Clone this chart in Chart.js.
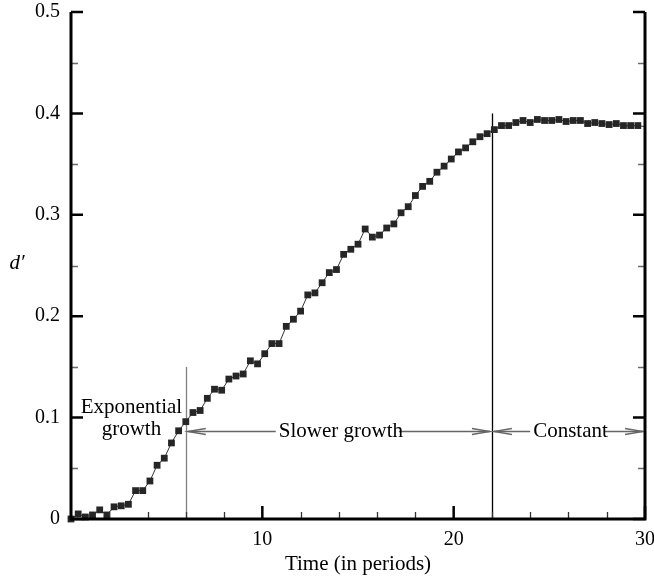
<!DOCTYPE html>
<html>
<head>
<meta charset="utf-8">
<script src="https://cdn.jsdelivr.net/npm/chart.js@4.4.1/dist/chart.umd.min.js"></script>
<style>
html,body{margin:0;padding:0;background:#fff;}
#wrap{width:654px;height:579px;position:relative;}
</style>
</head>
<body>
<div id="wrap"><canvas id="c" width="654" height="579"></canvas></div>
<script>
// ---- data ----
const timePeriods = [0, 0.375, 0.75, 1.125, 1.5, 1.875, 2.25, 2.625, 3, 3.375,
  3.75, 4.125, 4.5, 4.875, 5.25, 5.625, 6, 6.375, 6.75, 7.125,
  7.5, 7.875, 8.25, 8.625, 9, 9.375, 9.75, 10.125, 10.5, 10.875,
  11.25, 11.625, 12, 12.375, 12.75, 13.125, 13.5, 13.875, 14.25, 14.625,
  15, 15.375, 15.75, 16.125, 16.5, 16.875, 17.25, 17.625, 18, 18.375,
  18.75, 19.125, 19.5, 19.875, 20.25, 20.625, 21, 21.375, 21.75, 22.125,
  22.5, 22.875, 23.25, 23.625, 24, 24.375, 24.75, 25.125, 25.5, 25.875,
  26.25, 26.625, 27, 27.375, 27.75, 28.125, 28.5, 28.875, 29.25, 29.625, 30];
const dPrime = [0, 0.005, 0.002, 0.004, 0.009, 0.004, 0.012, 0.013, 0.0145, 0.028,
  0.028, 0.0375, 0.053, 0.060, 0.075, 0.087, 0.096, 0.105, 0.107, 0.119,
  0.128, 0.127, 0.138, 0.141, 0.143, 0.156, 0.153, 0.163, 0.173, 0.173,
  0.190, 0.197, 0.205, 0.221, 0.223, 0.233, 0.243, 0.246, 0.261, 0.266,
  0.271, 0.286, 0.278, 0.280, 0.287, 0.291, 0.302, 0.308, 0.319, 0.328,
  0.333, 0.342, 0.348, 0.355, 0.362, 0.366, 0.372, 0.377, 0.380, 0.384,
  0.388, 0.388, 0.391, 0.393, 0.391, 0.394, 0.393, 0.393, 0.394, 0.392,
  0.393, 0.393, 0.390, 0.391, 0.390, 0.389, 0.390, 0.388, 0.388, 0.388, 0.387];
const markerShown = timePeriods.map(t => t < 30);

const xMajorTicks = [10, 20, 30];
const xMinorTicks = [2, 4, 6, 8, 12, 14, 16, 18, 22, 24, 26, 28];
const yMajorTicks = [0, 0.1, 0.2, 0.3, 0.4, 0.5];
const yMinorTicks = [0.05, 0.15, 0.25, 0.35, 0.45];

const phaseBoundaries = [6, 22];
const boundaryTops = [0.15, 0.40];
const arrowLevel = 0.087;
const phaseTextA = ['Exponential', 'growth'];
const phaseTextB = 'Slower growth';
const phaseTextC = 'Constant';
const xTitle = 'Time (in periods)';
const yTitle = 'd\u2032';

const FONT = '"Liberation Serif", "Times New Roman", serif';

function arrowHead(ctx, tipX, y, dir) {
  const L = 18, h = 3;
  ctx.beginPath();
  ctx.moveTo(tipX - dir * L, y - h);
  ctx.lineTo(tipX, y);
  ctx.lineTo(tipX - dir * L, y + h);
  ctx.stroke();
}

const annotations = {
  id: 'annotations',
  beforeDatasetsDraw(chart) {
    const ctx = chart.ctx, xs = chart.scales.x, ys = chart.scales.y;
    ctx.save();
    const lineCols = ['#808080', '#000000'];
    phaseBoundaries.forEach((b, i) => {
      const px = Math.round(xs.getPixelForValue(b)) + 0.5;
      ctx.strokeStyle = lineCols[i];
      ctx.lineWidth = 1.3;
      ctx.beginPath();
      ctx.moveTo(px, ys.getPixelForValue(0));
      ctx.lineTo(px, ys.getPixelForValue(boundaryTops[i]));
      ctx.stroke();
    });
    const ay = Math.round(ys.getPixelForValue(arrowLevel)) + 0.5;
    ctx.font = '21px ' + FONT;
    ctx.fillStyle = '#000';
    ctx.textBaseline = 'alphabetic';
    ctx.textAlign = 'center';
    const ex = (xs.left + xs.getPixelForValue(phaseBoundaries[0])) / 2 + 3;
    ctx.fillText(phaseTextA[0], ex, ay - 19);
    ctx.fillText(phaseTextA[1], ex, ay + 3);
    const segs = [
      [xs.getPixelForValue(phaseBoundaries[0]), xs.getPixelForValue(phaseBoundaries[1]), phaseTextB],
      [xs.getPixelForValue(phaseBoundaries[1]), xs.right, phaseTextC]
    ];
    ctx.strokeStyle = '#666';
    ctx.lineWidth = 1.3;
    segs.forEach(([a, b, txt]) => {
      const w = ctx.measureText(txt).width;
      const cx = (a + b) / 2 + 2;
      ctx.beginPath();
      ctx.moveTo(a + 2, ay); ctx.lineTo(cx - w / 2 - 3, ay);
      ctx.moveTo(cx + w / 2 - 4, ay); ctx.lineTo(b - 2, ay);
      ctx.stroke();
      arrowHead(ctx, a + 2, ay, -1);
      arrowHead(ctx, b - 2, ay, 1);
      ctx.fillText(txt, cx, ay + 5);
    });
    ctx.restore();
  },
  afterDraw(chart) {
    const ctx = chart.ctx, xs = chart.scales.x, ys = chart.scales.y;
    const L = xs.left, R = xs.right, T = ys.top, B = ys.bottom;
    ctx.save();
    ctx.lineCap = 'butt';
    ctx.strokeStyle = '#000';
    ctx.lineWidth = 2.5;
    yMajorTicks.forEach(v => {
      const py = ys.getPixelForValue(v);
      ctx.beginPath();
      ctx.moveTo(L, py); ctx.lineTo(L + 12, py);
      ctx.moveTo(R, py); ctx.lineTo(R - 12, py);
      ctx.stroke();
    });
    xMajorTicks.forEach(v => {
      const px = xs.getPixelForValue(v);
      ctx.beginPath();
      ctx.moveTo(px, B); ctx.lineTo(px, B - 13);
      ctx.stroke();
    });
    ctx.strokeStyle = '#6a6a6a';
    ctx.lineWidth = 1.3;
    yMinorTicks.forEach(v => {
      const py = Math.round(ys.getPixelForValue(v)) + 0.5;
      ctx.beginPath();
      ctx.moveTo(L, py); ctx.lineTo(L + 7, py);
      ctx.moveTo(R, py); ctx.lineTo(R - 7, py);
      ctx.stroke();
    });
    ctx.strokeStyle = '#333';
    xMinorTicks.forEach(v => {
      const px = Math.round(xs.getPixelForValue(v)) + 0.5;
      ctx.beginPath();
      ctx.moveTo(px, B); ctx.lineTo(px, B - 7);
      ctx.stroke();
    });
    ctx.strokeStyle = '#000';
    ctx.lineWidth = 3;
    ctx.beginPath();
    ctx.moveTo(L, T); ctx.lineTo(L, B); ctx.lineTo(R, B); ctx.lineTo(R, T);
    ctx.stroke();
    ctx.font = 'italic 21px ' + FONT;
    ctx.fillStyle = '#000';
    ctx.textAlign = 'center';
    ctx.textBaseline = 'middle';
    ctx.fillText(yTitle, 17, 263);
    ctx.restore();
  }
};

new Chart(document.getElementById('c'), {
  type: 'line',
  data: {
    datasets: [{
      data: timePeriods.map((t, i) => ({ x: t, y: dPrime[i] })),
      borderColor: '#333',
      borderWidth: 1,
      backgroundColor: '#262626',
      pointStyle: 'rect',
      pointRadius: ctx => markerShown[ctx.dataIndex] ? 4.8 : 0,
      pointBorderWidth: 0,
      pointBackgroundColor: '#262626',
      tension: 0,
      clip: false
    }]
  },
  options: {
    responsive: false,
    animation: false,
    events: [],
    layout: { padding: { top: 12, right: 9, left: 0, bottom: 0 } },
    plugins: { legend: { display: false }, tooltip: { enabled: false } },
    scales: {
      x: {
        type: 'linear', min: 0, max: 30,
        afterBuildTicks: s => { s.ticks = [0, ...xMajorTicks].map(v => ({ value: v })); },
        ticks: {
          callback: v => v === 0 ? '' : String(v),
          font: { family: FONT, size: 20 },
          color: '#000', padding: 9, maxRotation: 0, autoSkip: false
        },
        grid: { display: false, drawTicks: false },
        border: { display: false },
        title: {
          display: true, text: xTitle, color: '#000',
          font: { family: FONT, size: 21 }, padding: { top: 0, bottom: 2 }
        },
        afterFit: s => { s.height = 60; s.paddingLeft = 0; s.paddingRight = 0; }
      },
      y: {
        type: 'linear', min: 0, max: 0.5,
        afterBuildTicks: s => { s.ticks = yMajorTicks.map(v => ({ value: v })); },
        ticks: {
          callback: v => v === 0 ? '0' : v.toFixed(1),
          font: { family: FONT, size: 20 },
          color: '#000', padding: 11
        },
        grid: { display: false, drawTicks: false },
        border: { display: false },
        afterFit: s => { s.width = 71; s.paddingTop = 0; s.paddingBottom = 0; }
      }
    }
  },
  plugins: [annotations]
});
</script>
</body>
</html>
